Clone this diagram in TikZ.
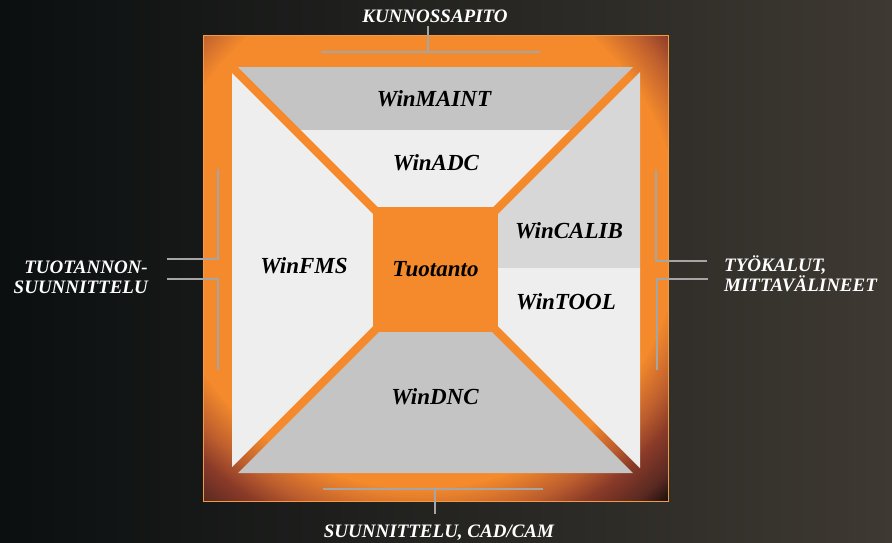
\documentclass[tikz,border=0pt]{standalone}
\usepackage{fontspec}
\setmainfont{Liberation Serif}
\definecolor{frameorange}{HTML}{F48A2C}
\definecolor{frameedge}{HTML}{F39A45}
\definecolor{framemid}{HTML}{C0602E}
\definecolor{framebrown}{HTML}{8A3A28}
\definecolor{frameumber}{HTML}{5A2A22}
\definecolor{framedark}{HTML}{120C08}
\definecolor{panelgrey}{HTML}{C4C4C4}
\definecolor{panelmid}{HTML}{D7D7D7}
\definecolor{panellight}{HTML}{EEEEEE}
\definecolor{bgleft}{HTML}{0B0F10}
\definecolor{bgright}{HTML}{3E3932}
\definecolor{linkgrey}{HTML}{A5A5A5}
\begin{document}
\begin{tikzpicture}[x=1pt,y=-1pt,
  panel/.style={font=\fontsize{23}{26}\selectfont\bfseries\itshape, text=black},
  area/.style={font=\fontsize{19}{20}\selectfont\bfseries\itshape, text=white, inner sep=0pt},
  link/.style={draw=linkgrey, line width=1.5pt}]
  \useasboundingbox (0,0) rectangle (892,542);
  % brushed background
  \shade[left color=bgleft, right color=bgright] (0,0) rectangle (892,542);
  % orange frame, darker towards the lower corners
  \coordinate (glow) at (420,230);
  \begin{scope}
    \clip (203,35) rectangle (668,501);
    \fill[framedark] (203,35) rectangle (668,501);
    \foreach \ra/\rb/\ca/\cb in {372/348/framedark/frameumber,
        348/318/frameumber/framebrown, 318/292/framebrown/framemid,
        292/260/framemid/frameorange}{
      \foreach \i in {0,...,11}{
        \pgfmathsetmacro\r{\ra-\i*(\ra-\rb)/12}
        \pgfmathtruncatemacro\p{\i*100/12}
        \fill[\cb!\p!\ca] (glow) circle (\r);}}
    \fill[frameorange] (glow) circle (260);
  \end{scope}
  \draw[frameedge, line width=1pt] (203,35) rectangle (668,501);
  % panels
  \fill[panelgrey]  (238,67) -- (633,67) -- (570,130) -- (301,130) -- cycle;
  \fill[panellight] (301,130) -- (570,130) -- (493,207) -- (378,207) -- cycle;
  \fill[panellight] (232,73) -- (373,214) -- (373,326) -- (232,467) -- cycle;
  \fill[panelmid]   (640,72) -- (640,268) -- (498,268) -- (498,214) -- cycle;
  \fill[panellight] (498,268) -- (640,268) -- (640,468) -- (498,326) -- cycle;
  \fill[panelgrey]  (379,332) -- (492,332) -- (633,473) -- (238,473) -- cycle;
  \node[panel, fill=frameorange, minimum size=125pt, inner sep=0pt] (core) at (435.5,269.5) {Tuotanto};
  \node[panel] (maint) at (434,99) {WinMAINT};
  \node[panel] (adc) at (436,163) {WinADC};
  \node[panel] (fms) at (304,266) {WinFMS};
  \node[panel] (calib) at (569,231) {WinCALIB};
  \node[panel] (tool) at (566,302) {WinTOOL};
  \node[panel] (dnc) at (435,397) {WinDNC};
  % outside labels
  \node[area, anchor=base] (upkeep) at (435,22) {KUNNOSSAPITO};
  \node[area, anchor=base] (design) at (439,537) {SUUNNITTELU, CAD/CAM};
  \node[area, anchor=base east, align=right] (plan) at (148,293) {TUOTANNON-\\SUUNNITTELU};
  \node[area, anchor=base west, align=left] (tools) at (724,291) {TYÖKALUT,\\MITTAVÄLINEET};
  % connectors
  \coordinate (topL) at (321,52);
  \coordinate (topR) at (540,52);
  \coordinate (topM) at (428,52);
  \draw[link] (topL) -- (topR) (topM) -- (topM |- 0,26);
  \coordinate (botL) at (323,489);
  \coordinate (botR) at (543,489);
  \coordinate (botM) at (435,489);
  \draw[link] (botL) -- (botR) (botM) -- ++(0,25);
  \coordinate (leftA) at (218,169);
  \coordinate (leftB) at (167,259);
  \coordinate (leftC) at (167,279);
  \coordinate (leftD) at (218,370);
  \draw[link] (leftA) |- (leftB);
  \draw[link] (leftD) |- (leftC);
  \coordinate (rightA) at (656,170);
  \coordinate (rightB) at (707,261);
  \coordinate (rightC) at (708,279);
  \coordinate (rightD) at (657,370);
  \draw[link] (rightA) |- (rightB);
  \draw[link] (rightD) |- (rightC);
\end{tikzpicture}
\end{document}
